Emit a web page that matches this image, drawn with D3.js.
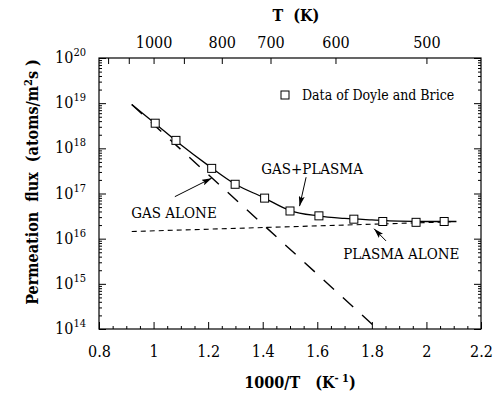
<!DOCTYPE html>
<html>
<head>
<meta charset="utf-8">
<script src="https://cdn.jsdelivr.net/npm/d3@7"></script>
<style>
body{margin:0;background:#fff;}
svg text{fill:#000;}
</style>
</head>
<body>
<svg id="chart" width="494" height="400"></svg>
<script>
// measured points (Doyle and Brice): 1000/T and permeation flux
var dataX = [1.006, 1.082, 1.213, 1.299, 1.407, 1.5, 1.606, 1.734, 1.84, 1.962, 2.065];
var dataFlux = [3.6e18, 1.5e18, 3.6e17, 1.6e17, 7.9e16, 4.1e16, 3.2e16, 2.7e16, 2.4e16, 2.3e16, 2.4e16];

// model curves
var fitX = [0.92, 1.0, 1.1, 1.2, 1.3, 1.4, 1.5, 1.6, 1.7, 1.8, 1.9, 2.0, 2.11];
var fitFlux = [9.3e18, 3.8e18, 1.2e18, 4.2e17, 1.6e17, 8.3e16, 4.2e16, 3.2e16, 2.8e16, 2.6e16, 2.45e16, 2.4e16, 2.4e16];
var gasX = [0.92, 1.82];
var gasFlux = [9.3e18, 1.0e14];
var plasmaX = [0.92, 2.09];
var plasmaFlux = [1.44e16, 2.36e16];

// ticks
var xTicks = [0.8, 1, 1.2, 1.4, 1.6, 1.8, 2, 2.2];
var expTicks = [14, 15, 16, 17, 18, 19, 20];
var tempTicks = [1200, 1100, 1000, 900, 800, 700, 600, 500];
var tempLabels = [1000, 800, 700, 600, 500];

var FONT = '"DejaVu Serif Condensed", "DejaVu Serif", serif';

var svg = d3.select('#chart');
var margin = {top: 58, right: 13, bottom: 71, left: 99};
var width = 494 - margin.left - margin.right;
var height = 400 - margin.top - margin.bottom;
var g = svg.append('g').attr('transform', 'translate(' + margin.left + ',' + margin.top + ')');

var x = d3.scaleLinear().domain([0.8, 2.2]).range([0, width]);
var y = d3.scaleLog().domain([1e14, 1e20]).range([height, 0]);

// arrow head
svg.append('defs').append('marker')
  .attr('id', 'head')
  .attr('viewBox', '0 0 10 6')
  .attr('refX', 10).attr('refY', 3)
  .attr('markerWidth', 10).attr('markerHeight', 6)
  .attr('markerUnits', 'userSpaceOnUse')
  .attr('orient', 'auto')
  .append('path').attr('d', 'M0,0 L10,3 L0,6 L2,3 Z').attr('fill', '#000');

//-------------- ticks --------------
var minorX = d3.range(0.85, 2.2, 0.05).filter(function(v){ return Math.abs(v*5 - Math.round(v*5)) > 0.01; });
var minorY = [];
for (var e = 14; e < 20; e++) {
  for (var m = 2; m < 10; m++) minorY.push(m * Math.pow(10, e));
}
var majorY = expTicks.map(function(p){ return Math.pow(10, p); });

function clean(sel) {
  sel.attr('font-family', FONT);
  sel.select('.domain').remove();
  sel.selectAll('line').attr('stroke', '#000').attr('stroke-width', 1);
  sel.selectAll('text').attr('font-family', FONT).attr('font-size', 16);
}

g.append('g').attr('transform', 'translate(0,' + height + ')')
  .call(d3.axisBottom(x).tickValues(xTicks).tickSize(-7).tickPadding(17).tickFormat(d3.format('')))
  .call(clean);
g.append('g').attr('transform', 'translate(0,' + height + ')')
  .call(d3.axisBottom(x).tickValues(minorX).tickSize(-3).tickFormat(''))
  .call(clean);

g.append('g')
  .call(d3.axisLeft(y).tickValues(majorY).tickSize(-7).tickFormat(''))
  .call(clean);
g.append('g')
  .call(d3.axisLeft(y).tickValues(minorY).tickSize(-3).tickFormat(''))
  .call(clean);
g.append('g').attr('transform', 'translate(' + width + ',0)')
  .call(d3.axisRight(y).tickValues(majorY).tickSize(-7).tickFormat(''))
  .call(clean);
g.append('g').attr('transform', 'translate(' + width + ',0)')
  .call(d3.axisRight(y).tickValues(minorY).tickSize(-3).tickFormat(''))
  .call(clean);

// temperature scale on top
g.append('g')
  .call(d3.axisTop(x).tickValues(tempTicks.map(function(t){ return 1000 / t; })).tickSize(-6).tickPadding(10)
    .tickFormat(function(d){
      var t = Math.round(1000 / d);
      return tempLabels.indexOf(t) >= 0 ? t : '';
    }))
  .call(clean);

// decade labels 10^n
var ylab = g.append('g').selectAll('text').data(expTicks).enter().append('text')
  .attr('x', -13)
  .attr('y', function(d){ return y(Math.pow(10, d)) + 5; })
  .attr('text-anchor', 'end')
  .attr('font-family', FONT)
  .attr('font-size', 16);
ylab.append('tspan').text('10');
ylab.append('tspan').attr('dy', -7).attr('font-size', 11).text(function(d){ return d; });

// frame
g.append('rect').attr('width', width).attr('height', height)
  .attr('fill', 'none').attr('stroke', '#000').attr('stroke-width', 1.2);

//-------------- curves --------------
var line = d3.line()
  .x(function(d){ return x(d[0]); })
  .y(function(d){ return y(d[1]); });

g.append('path')
  .datum(gasX.map(function(v, i){ return [v, gasFlux[i]]; }))
  .attr('d', line)
  .attr('fill', 'none').attr('stroke', '#000').attr('stroke-width', 1.4)
  .attr('stroke-dasharray', '14,12');

g.append('path')
  .datum(plasmaX.map(function(v, i){ return [v, plasmaFlux[i]]; }))
  .attr('d', line)
  .attr('fill', 'none').attr('stroke', '#000').attr('stroke-width', 1.1)
  .attr('stroke-dasharray', '5,4');

g.append('path')
  .datum(fitX.map(function(v, i){ return [v, fitFlux[i]]; }))
  .attr('d', line.curve(d3.curveMonotoneX))
  .attr('fill', 'none').attr('stroke', '#000').attr('stroke-width', 1.3);

// data squares
g.append('g').selectAll('rect').data(dataX).enter().append('rect')
  .attr('x', function(d){ return x(d) - 4; })
  .attr('y', function(d, i){ return y(dataFlux[i]) - 4; })
  .attr('width', 8).attr('height', 8)
  .attr('fill', '#fff').attr('stroke', '#000').attr('stroke-width', 1);

//-------------- annotations --------------
function note(txt, tx, ty, x1, y1, x2, y2) {
  g.append('text').attr('x', x(tx)).attr('y', y(ty) + 5)
    .attr('text-anchor', 'middle').attr('font-family', FONT).attr('font-size', 15).text(txt);
  g.append('line')
    .attr('x1', x(x1)).attr('y1', y(y1)).attr('x2', x(x2)).attr('y2', y(y2))
    .attr('stroke', '#000').attr('stroke-width', 1)
    .attr('marker-end', 'url(#head)');
}
note('GAS ALONE', 1.075, Math.pow(10, 16.57), 1.078, Math.pow(10, 16.93), 1.213, Math.pow(10, 17.34));
note('GAS+PLASMA', 1.581, Math.pow(10, 17.55), 1.559, Math.pow(10, 17.36), 1.535, Math.pow(10, 16.72));
note('PLASMA ALONE', 1.908, Math.pow(10, 15.66), 1.852, Math.pow(10, 15.95), 1.808, Math.pow(10, 16.22));

// legend
g.append('rect').attr('x', 285 - margin.left - 4).attr('y', 95 - margin.top - 4)
  .attr('width', 8).attr('height', 8)
  .attr('fill', '#fff').attr('stroke', '#000');
g.append('text').attr('x', 302 - margin.left).attr('y', 100 - margin.top)
  .attr('font-family', FONT).attr('font-size', 14).text('Data of Doyle and Brice');

//-------------- titles --------------
svg.append('text').attr('x', 296).attr('y', 21)
  .attr('text-anchor', 'middle').attr('font-family', FONT).attr('font-size', 16).attr('font-weight', 'bold')
  .attr('xml:space', 'preserve').text('T  (K)');

var xt = svg.append('text').attr('x', 300).attr('y', 388)
  .attr('text-anchor', 'middle').attr('font-family', FONT).attr('font-size', 16).attr('font-weight', 'bold')
  .attr('xml:space', 'preserve');
xt.append('tspan').text('1000/T   (K');
xt.append('tspan').attr('dy', -6).attr('font-size', 11).text('- 1');
xt.append('tspan').attr('dy', 6).text(')');

var yt = svg.append('text')
  .attr('transform', 'translate(38,182) rotate(-90)')
  .attr('text-anchor', 'middle').attr('font-family', FONT).attr('font-size', 16).attr('font-weight', 'bold')
  .attr('xml:space', 'preserve');
yt.append('tspan').text('Permeation  flux  (atoms/m');
yt.append('tspan').attr('dy', -6).attr('font-size', 11).text('2');
yt.append('tspan').attr('dy', 6).text('s )');
</script>
</body>
</html>
